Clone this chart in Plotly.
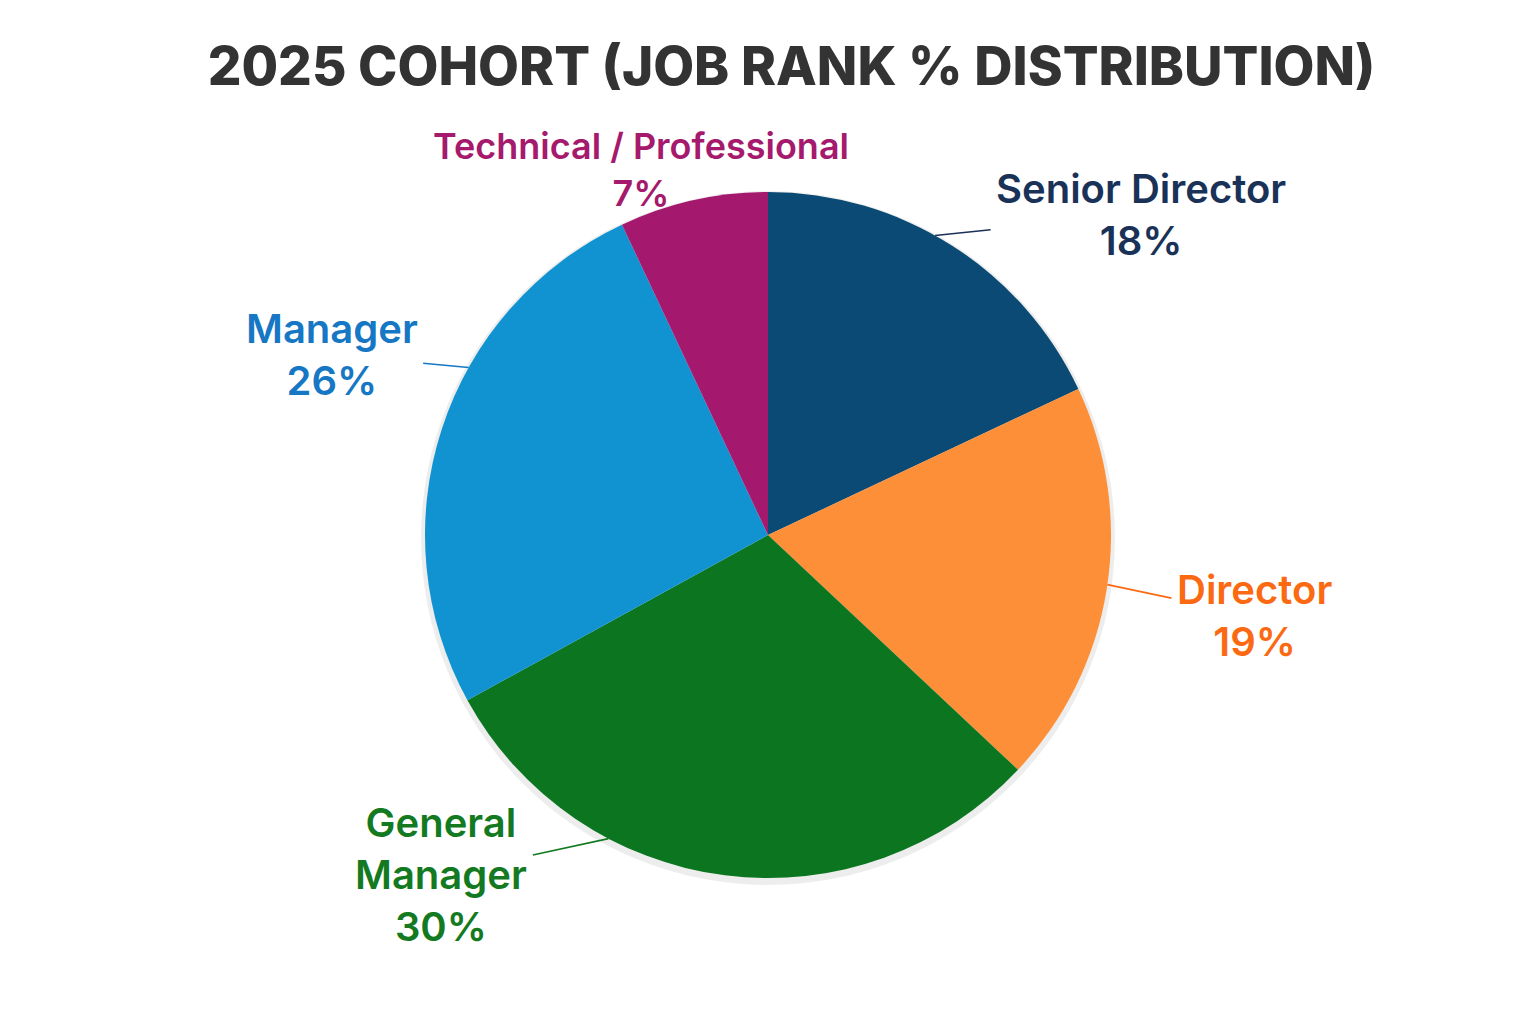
import math
import plotly.graph_objects as go

# ---- data ----
categories = ["Senior Director", "Director", "General Manager", "Manager", "Technical / Professional"]
label_text = ["Senior Director", "Director", "General<br>Manager", "Manager", "Technical / Professional"]
percent_values = [18, 19, 30, 26, 7]
title_text = "2025 COHORT (JOB RANK % DISTRIBUTION)"

# ---- styles ----
slice_colors = ["#0A4A74", "#FD8F38", "#0B7520", "#1193D2", "#A4186E"]
text_colors = ["#1A3257", "#FB6A12", "#137A22", "#1677C4", "#A51A6C"]
label_sizes = [40, 40, 40, 40, 36]
# where along each slice the leader line touches (fraction of the slice span)
anchor_frac = [0.45, 0.49, 0.69, 0.62, 0.5]
# label offset from anchor, in pixels (dx, dy with y down)
label_offset = [(206, -21), (147, 31), (-167, 36), (-137, -13), (-52, -31)]
show_line = [True, True, True, True, False]

W, H = 1536, 1024
CX, CY, R = 760, 527, 343  # pie centre / radius in figure pixels

fig = go.Figure()

fig.add_trace(go.Pie(
    labels=categories,
    values=percent_values,
    sort=False,
    direction="clockwise",
    rotation=0,
    marker=dict(colors=slice_colors, line=dict(width=0)),
    textinfo="none",
    hoverinfo="label+percent",
    showlegend=False,
    domain=dict(x=[(CX - R) / W, (CX + R) / W],
                y=[(H - CY - R) / H, (H - CY + R) / H]),
))

# subtle drop shadow behind the pie
fig.add_shape(type="circle", xref="paper", yref="paper", layer="below",
              x0=(CX - R - 4) / W, x1=(CX + R + 4) / W,
              y0=(H - CY - R - 7) / H, y1=(H - CY + R + 1) / H,
              fillcolor="rgba(0,0,0,0.07)", line=dict(width=0))

total = sum(percent_values)
start = 0.0
for i, v in enumerate(percent_values):
    span = v / total * 360.0
    ang = math.radians(start + anchor_frac[i] * span)
    start += span
    px = CX + R * math.sin(ang)
    py = CY - R * math.cos(ang)
    dx, dy = label_offset[i]
    fig.add_annotation(
        x=px / W, y=1 - py / H, xref="paper", yref="paper",
        ax=dx, ay=dy,
        text=f"{label_text[i]}<br>{v}%",
        showarrow=True, arrowhead=0, arrowwidth=1.6,
        arrowcolor=text_colors[i] if show_line[i] else "rgba(0,0,0,0)",
        standoff=0, startstandoff=4,
        font=dict(family="Inter, Roboto, sans-serif", size=label_sizes[i], color=text_colors[i], weight=600),
        align="center",
    )

fig.update_layout(
    width=W, height=H,
    margin=dict(l=0, r=0, t=0, b=0),
    paper_bgcolor="white", plot_bgcolor="white",
    title=dict(text=title_text, x=783.5 / W, xanchor="center", y=1 - 58 / H, yanchor="middle",
               font=dict(family="Inter, Roboto, sans-serif", size=53, color="#333333", weight=800)),
)

fig.write_html("out.html")
